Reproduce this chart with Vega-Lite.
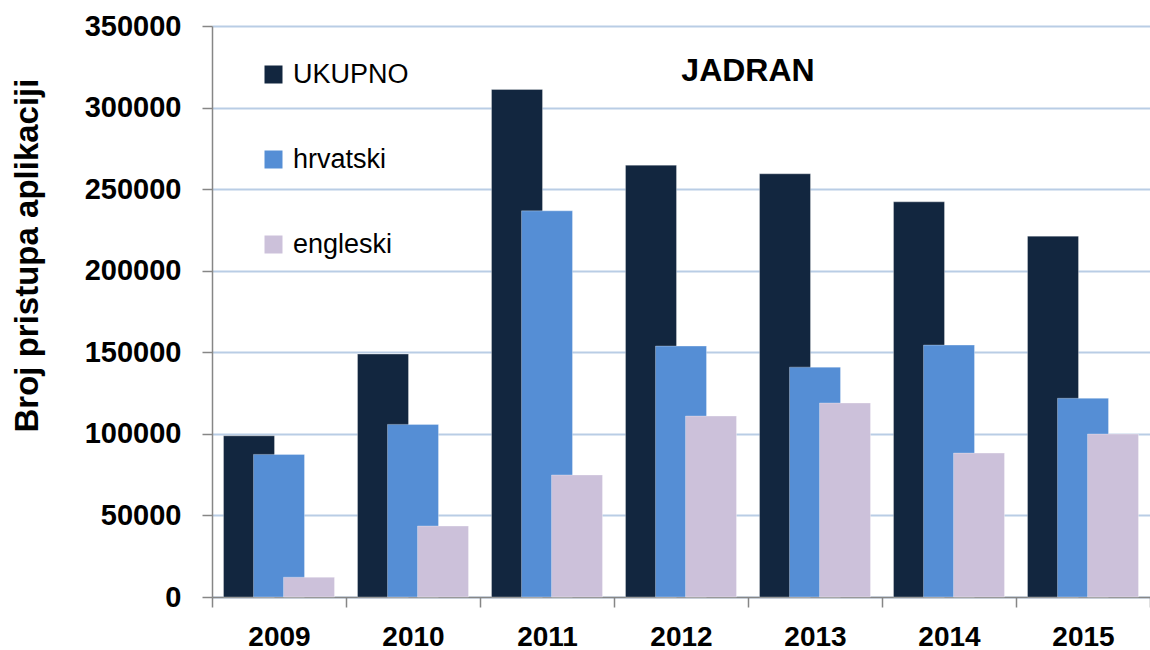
{
  "$schema": "https://vega.github.io/schema/vega-lite/v6.json",
  "width": 938,
  "height": 571,
  "autosize": {"type": "none"},
  "padding": {"left": 212, "top": 26, "right": 0, "bottom": 53},
  "background": "white",
  "title": {
    "text": "JADRAN",
    "font": "Liberation Sans",
    "fontSize": 32,
    "fontWeight": "bold",
    "color": "black",
    "anchor": "middle",
    "frame": "group",
    "offset": 0,
    "baseline": "alphabetic",
    "dx": 67,
    "dy": 101
  },
  "data": {
    "values": [
      {"year": "2009", "series": "UKUPNO", "value": 98800},
      {"year": "2010", "series": "UKUPNO", "value": 148900},
      {"year": "2011", "series": "UKUPNO", "value": 311100},
      {"year": "2012", "series": "UKUPNO", "value": 264700},
      {"year": "2013", "series": "UKUPNO", "value": 259400},
      {"year": "2014", "series": "UKUPNO", "value": 242200},
      {"year": "2015", "series": "UKUPNO", "value": 221200},
      {"year": "2009", "series": "hrvatski", "value": 87400},
      {"year": "2010", "series": "hrvatski", "value": 105800},
      {"year": "2011", "series": "hrvatski", "value": 236700},
      {"year": "2012", "series": "hrvatski", "value": 153800},
      {"year": "2013", "series": "hrvatski", "value": 140900},
      {"year": "2014", "series": "hrvatski", "value": 154400},
      {"year": "2015", "series": "hrvatski", "value": 121800},
      {"year": "2009", "series": "engleski", "value": 12100},
      {"year": "2010", "series": "engleski", "value": 43500},
      {"year": "2011", "series": "engleski", "value": 74800},
      {"year": "2012", "series": "engleski", "value": 110900},
      {"year": "2013", "series": "engleski", "value": 118900},
      {"year": "2014", "series": "engleski", "value": 88200},
      {"year": "2015", "series": "engleski", "value": 99900}
    ]
  },
  "encoding": {
    "x": {
      "field": "year",
      "type": "nominal",
      "scale": {"paddingInner": 0, "paddingOuter": 0},
      "axis": {
        "title": null,
        "labelAngle": 0,
        "labelFont": "Liberation Sans",
        "labelFontSize": 28,
        "labelFontWeight": "bold",
        "labelColor": "black",
        "labelPadding": 16,
        "tickBand": "extent",
        "tickSize": 10,
        "tickColor": "#868686",
        "domainColor": "#868686",
        "domainWidth": 1.5,
        "tickWidth": 1.5,
        "grid": false
      }
    },
    "y": {
      "field": "value",
      "type": "quantitative",
      "scale": {"domain": [0, 350000], "nice": false},
      "axis": {
        "title": "Broj pristupa aplikaciji",
        "titleFont": "Liberation Sans",
        "titleFontSize": 33,
        "titleFontWeight": "bold",
        "titleColor": "black",
        "titlePadding": 40,
        "titleY": 229,
        "values": [0, 50000, 100000, 150000, 200000, 250000, 300000, 350000],
        "format": "d",
        "labelFont": "Liberation Sans",
        "labelFontSize": 29,
        "labelFontWeight": "bold",
        "labelColor": "black",
        "labelPadding": 21,
        "tickSize": 10,
        "tickColor": "#868686",
        "tickWidth": 1.5,
        "domainColor": "#868686",
        "domainWidth": 1.5,
        "grid": true,
        "gridColor": "#B9CDE5",
        "gridWidth": 2
      }
    },
    "color": {
      "field": "series",
      "type": "nominal",
      "scale": {
        "domain": ["UKUPNO", "hrvatski", "engleski"],
        "range": ["#12263F", "#558ED5", "#CCC1DA"]
      },
      "legend": {
        "title": null,
        "orient": "none",
        "legendX": 48,
        "legendY": 35,
        "padding": 0,
        "symbolType": "square",
        "symbolSize": 324,
        "symbolStrokeWidth": 0,
        "labelFont": "Liberation Sans",
        "labelFontSize": 27,
        "labelColor": "black",
        "labelOffset": 6,
        "rowPadding": 57
      }
    }
  },
  "layer": [
    {
      "transform": [{"filter": "datum.series === 'UKUPNO'"}],
      "mark": {"type": "bar", "width": 51, "xOffset": -30, "stroke": "white", "strokeOpacity": 0.3, "strokeWidth": 1}
    },
    {
      "transform": [{"filter": "datum.series === 'hrvatski'"}],
      "mark": {"type": "bar", "width": 51, "xOffset": 0, "stroke": "white", "strokeOpacity": 0.3, "strokeWidth": 1}
    },
    {
      "transform": [{"filter": "datum.series === 'engleski'"}],
      "mark": {"type": "bar", "width": 51, "xOffset": 30, "stroke": "white", "strokeOpacity": 0.3, "strokeWidth": 1}
    }
  ],
  "config": {"view": {"stroke": null}}
}
